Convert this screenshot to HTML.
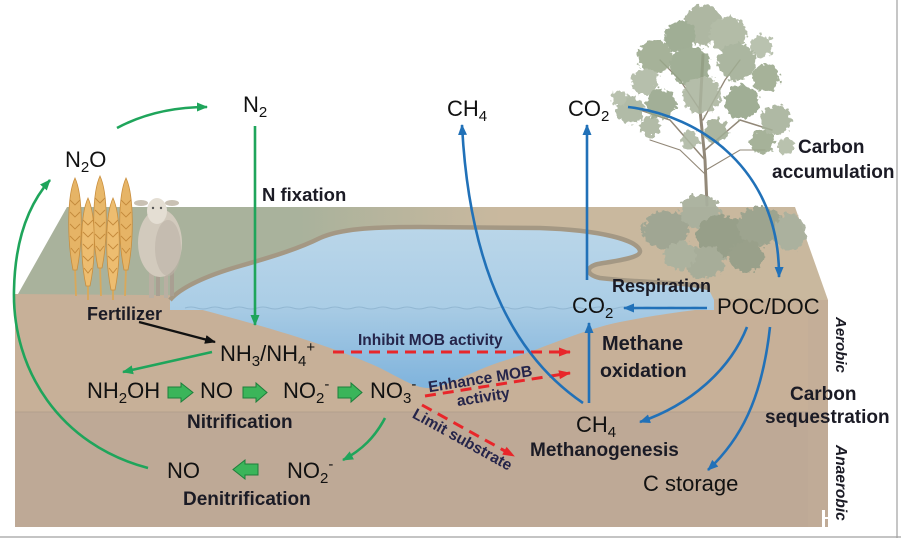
<!DOCTYPE html>
<html><head><meta charset="utf-8"><style>
html,body{margin:0;padding:0;background:#fff;}
svg{display:block;}
text{font-family:"Liberation Sans",sans-serif;}
.b{font-weight:bold;fill:#1b1b25;}
.r{fill:#111;}
.m{font-weight:bold;fill:#25254a;}
</style></head><body>
<svg width="901" height="538" viewBox="0 0 901 538" xmlns="http://www.w3.org/2000/svg">
<defs>
 <linearGradient id="topg" gradientUnits="userSpaceOnUse" x1="300" y1="0" x2="500" y2="0">
  <stop offset="0" stop-color="#a9b29c"/><stop offset="1" stop-color="#c9b89e"/>
 </linearGradient>
 <linearGradient id="pondg" x1="0" y1="0" x2="0" y2="1">
  <stop offset="0" stop-color="#bad6e9"/><stop offset="1" stop-color="#aacde6"/>
 </linearGradient>
 <linearGradient id="xsec" gradientUnits="userSpaceOnUse" x1="0" y1="308" x2="0" y2="392">
  <stop offset="0" stop-color="#a8cbe4"/><stop offset="1" stop-color="#7db2dc"/>
 </linearGradient>
 <filter id="feather" x="-20%" y="-20%" width="140%" height="140%">
  <feTurbulence type="fractalNoise" baseFrequency="0.2" numOctaves="2" seed="3" result="n"/>
  <feDisplacementMap in="SourceGraphic" in2="n" scale="10" xChannelSelector="R" yChannelSelector="G"/>
 </filter>
 <marker id="ag" markerWidth="12" markerHeight="10" refX="10" refY="5" orient="auto" markerUnits="userSpaceOnUse"><path d="M0,0.5 L11,5 L0,9.5 z" fill="#1fa55b"/></marker>
 <marker id="ab" markerWidth="12" markerHeight="10" refX="10" refY="5" orient="auto" markerUnits="userSpaceOnUse"><path d="M0,0.5 L11,5 L0,9.5 z" fill="#2171b8"/></marker>
 <marker id="ar" markerWidth="13" markerHeight="10" refX="11" refY="5" orient="auto" markerUnits="userSpaceOnUse"><path d="M0,0.5 L12,5 L0,9.5 z" fill="#e8262a"/></marker>
 <marker id="ak" markerWidth="12" markerHeight="10" refX="10" refY="5" orient="auto" markerUnits="userSpaceOnUse"><path d="M0,0.5 L11,5 L0,9.5 z" fill="#111"/></marker>
</defs>

<!-- frame lines -->
<line x1="897" y1="0" x2="897" y2="538" stroke="#a0a0a0" stroke-width="1.2"/>
<line x1="0" y1="537" x2="901" y2="537" stroke="#a0a0a0" stroke-width="1.2"/>

<!-- top surface -->
<polygon points="18,294 67,207 795,207 828,300 828,306 18,300" fill="url(#topg)"/>
<!-- front face -->
<polygon points="15,294 828,300 828,527 15,527" fill="#c7b098"/>
<rect x="15" y="412" width="813" height="115" fill="#bea996"/>
<line x1="15" y1="412" x2="828" y2="412" stroke="#b3a08d" stroke-width="1"/>
<rect x="808" y="300" width="20" height="227" fill="#c2ad98" opacity="0.6"/>

<!-- pond surface -->
<path d="M170,300 C180,288 205,276 240,266 C275,256 300,248 320,238 C340,229 370,227 420,227 L540,228 C600,230 638,240 640,251 C641,258 615,261 598,264 C585,267 586,275 600,278 C640,283 690,282 708,288 L714,300 L714,310 L170,310 Z" fill="url(#pondg)"/>
<path d="M170,300 C180,288 205,276 240,266 C275,256 300,248 320,238 C340,229 370,227 420,227 L540,228 C600,230 638,240 640,251 C641,258 615,261 598,264 C585,267 586,275 600,278 C640,283 690,282 708,288" fill="none" stroke="#a49884" stroke-width="4.5"/>
<!-- water cross-section -->
<path d="M195,308 C260,325 330,345 380,368 C400,378 415,388 428,388 C445,388 470,372 500,362 C540,350 580,330 620,322 C650,316 690,310 714,308 Z" fill="url(#xsec)"/>
<path d="M185,308 q6,-2 12,0 t12,0 t12,0 t12,0 t12,0 t12,0 t12,0 t12,0 t12,0 t12,0 t12,0 t12,0 t12,0 t12,0 t12,0 t12,0 t12,0 t12,0 t12,0 t12,0 t12,0 t12,0 t12,0 t12,0 t12,0 t12,0 t12,0 t12,0 t12,0 t12,0 t12,0 t12,0 t12,0 t12,0 t12,0 t12,0 t12,0 t12,0 t12,0 t12,0 t12,0 t12,0 t12,0" fill="none" stroke="#92b7d2" stroke-width="1"/>

<!-- wheat -->
<g stroke="#c98e3d" stroke-width="0.8">
 <line x1="75" y1="268" x2="76" y2="296" stroke="#d9a85a" stroke-width="1.8"/>
 <path d="M75,178 C83,195 83,240 77,270 L73,270 C67,240 67,195 75,178 Z" fill="#e6b466"/>
 <line x1="100" y1="266" x2="101" y2="296" stroke="#d9a85a" stroke-width="1.8"/>
 <path d="M100,176 C108,193 108,238 102,268 L98,268 C92,238 92,193 100,176 Z" fill="#e8b86a"/>
 <line x1="126" y1="268" x2="125" y2="296" stroke="#d9a85a" stroke-width="1.8"/>
 <path d="M126,178 C134,195 134,240 128,270 L124,270 C118,240 118,195 126,178 Z" fill="#e6b466"/>
 <line x1="88" y1="284" x2="88" y2="300" stroke="#d9a85a" stroke-width="1.8"/>
 <path d="M88,198 C96,215 96,258 90,286 L86,286 C80,258 80,215 88,198 Z" fill="#edbd70"/>
 <line x1="113" y1="288" x2="113" y2="300" stroke="#d9a85a" stroke-width="1.8"/>
 <path d="M113,198 C121,215 121,260 115,290 L111,290 C105,260 105,215 113,198 Z" fill="#edbd70"/>
</g>
<g stroke="#c48a3c" stroke-width="0.9" fill="none">
 <path d="M70,200 l5,5 l5,-5 M70,212 l5,5 l5,-5 M70,224 l5,5 l5,-5 M70,236 l5,5 l5,-5 M71,248 l4,5 l4,-5"/>
 <path d="M95,198 l5,5 l5,-5 M95,210 l5,5 l5,-5 M95,222 l5,5 l5,-5 M95,234 l5,5 l5,-5 M96,246 l4,5 l4,-5"/>
 <path d="M121,200 l5,5 l5,-5 M121,212 l5,5 l5,-5 M121,224 l5,5 l5,-5 M121,236 l5,5 l5,-5 M122,248 l4,5 l4,-5"/>
 <path d="M83,220 l5,5 l5,-5 M83,232 l5,5 l5,-5 M83,244 l5,5 l5,-5 M83,256 l5,5 l5,-5 M84,268 l4,5 l4,-5"/>
 <path d="M108,220 l5,5 l5,-5 M108,232 l5,5 l5,-5 M108,244 l5,5 l5,-5 M108,256 l5,5 l5,-5 M109,268 l4,5 l4,-5"/>
</g>

<!-- sheep -->
<g>
 <rect x="149" y="268" width="5" height="30" fill="#b9afa2"/>
 <rect x="156" y="268" width="4" height="28" fill="#a99f92"/>
 <rect x="164" y="268" width="4" height="30" fill="#b9afa2"/>
 <rect x="170" y="268" width="4" height="28" fill="#a99f92"/>
 <ellipse cx="160" cy="243" rx="22" ry="34" fill="#d2cabd"/>
 <ellipse cx="168" cy="248" rx="13" ry="28" fill="#bdb3a6" opacity="0.6"/>
 <ellipse cx="141" cy="203" rx="7" ry="3" fill="#c9c1b4"/>
 <ellipse cx="172" cy="203" rx="7" ry="3" fill="#c9c1b4"/>
 <ellipse cx="157" cy="211" rx="10" ry="13" fill="#e4ded3"/>
 <circle cx="153" cy="208" r="1.2" fill="#555"/>
 <circle cx="161" cy="208" r="1.2" fill="#555"/>
</g>

<!-- tree -->
<g stroke="#928878" fill="none" stroke-linecap="round">
 <path d="M707,205 L705,160 L700,110 L703,55" stroke-width="3"/>
 <path d="M705,160 L670,120 L640,110" stroke-width="1.5"/>
 <path d="M705,150 L740,120 L772,130" stroke-width="1.5"/>
 <path d="M703,120 L725,80 L740,60" stroke-width="1.3"/>
 <path d="M700,110 L680,80 L660,60" stroke-width="1.3"/>
 <path d="M706,175 L680,150 L650,140" stroke-width="1.1"/>
 <path d="M706,170 L740,150 L765,150" stroke-width="1.1"/>
</g>
<g filter="url(#feather)" opacity="0.88">
 <circle cx="703" cy="25" r="20" fill="#a3ae96"/>
 <circle cx="680" cy="37" r="16" fill="#94a387"/>
 <circle cx="728" cy="34" r="18" fill="#a9b39c"/>
 <circle cx="655" cy="57" r="17" fill="#9aa88c"/>
 <circle cx="645" cy="82" r="13" fill="#adb7a1"/>
 <circle cx="690" cy="66" r="20" fill="#95a488"/>
 <circle cx="737" cy="62" r="19" fill="#a0ad93"/>
 <circle cx="762" cy="46" r="11" fill="#b0baa4"/>
 <circle cx="766" cy="78" r="14" fill="#9aa88c"/>
 <circle cx="630" cy="110" r="14" fill="#a7b29b"/>
 <circle cx="661" cy="104" r="15" fill="#96a589"/>
 <circle cx="702" cy="95" r="19" fill="#aab49e"/>
 <circle cx="742" cy="102" r="17" fill="#94a387"/>
 <circle cx="776" cy="120" r="15" fill="#a5b098"/>
 <circle cx="762" cy="142" r="12" fill="#9aa88c"/>
 <circle cx="786" cy="146" r="8" fill="#b0baa3"/>
 <circle cx="716" cy="131" r="12" fill="#a1ad94"/>
 <circle cx="690" cy="140" r="9" fill="#adb7a1"/>
 <circle cx="619" cy="98" r="8" fill="#afb9a3"/>
 <circle cx="650" cy="126" r="10" fill="#a8b29b"/>
</g>
<g filter="url(#feather)" opacity="0.95">
 <ellipse cx="666" cy="230" rx="23" ry="19" fill="#9ea693"/>
 <ellipse cx="700" cy="212" rx="20" ry="17" fill="#a9b09d"/>
 <ellipse cx="722" cy="236" rx="26" ry="21" fill="#959e88"/>
 <ellipse cx="705" cy="262" rx="20" ry="16" fill="#a6ad99"/>
 <ellipse cx="760" cy="226" rx="23" ry="19" fill="#9ba38f"/>
 <ellipse cx="790" cy="232" rx="16" ry="19" fill="#aab19e"/>
 <ellipse cx="746" cy="256" rx="18" ry="15" fill="#979f89"/>
 <ellipse cx="680" cy="256" rx="16" ry="14" fill="#abb29f"/>
</g>

<!-- green connectors -->
<g fill="none" stroke="#1fa55b" stroke-width="2.6">
 <path d="M117,128 C145,113 175,107 207,107" marker-end="url(#ag)"/>
 <line x1="255" y1="126" x2="255" y2="325" marker-end="url(#ag)"/>
 <path d="M148,468 C60,445 12,370 14,290 C15,240 28,205 50,180" marker-end="url(#ag)"/>
 <line x1="212" y1="352" x2="123" y2="372" marker-end="url(#ag)"/>
 <path d="M385,418 C375,437 362,450 343,460" marker-end="url(#ag)"/>
</g>
<line x1="139" y1="322" x2="215" y2="342" stroke="#111" stroke-width="2.2" marker-end="url(#ak)"/>

<!-- block arrows -->
<g fill="#3bb55a" stroke="#1d7f3b" stroke-width="1">
 <path d="M168,387 L181,387 L181,383 L193,392.5 L181,402 L181,398 L168,398 Z"/>
 <path d="M243,387 L256,387 L256,383 L267,392.5 L256,402 L256,398 L243,398 Z"/>
 <path d="M338,387 L351,387 L351,383 L362,392.5 L351,402 L351,398 L338,398 Z"/>
 <path d="M258,464 L245,464 L245,460 L233,469.5 L245,479 L245,475 L258,475 Z"/>
</g>

<!-- red dashed -->
<g fill="none" stroke="#e8262a" stroke-width="3" stroke-dasharray="11 7">
 <line x1="333" y1="352" x2="570" y2="352" marker-end="url(#ar)"/>
 <line x1="425" y1="396" x2="570" y2="373" marker-end="url(#ar)"/>
 <line x1="422" y1="405" x2="514" y2="456" marker-end="url(#ar)"/>
</g>

<!-- blue connectors -->
<g fill="none" stroke="#2171b8" stroke-width="2.6">
 <path d="M583,403 C520,360 470,280 462,125" marker-end="url(#ab)"/>
 <line x1="587" y1="280" x2="587" y2="125" marker-end="url(#ab)"/>
 <line x1="589" y1="403" x2="589" y2="323" marker-end="url(#ab)"/>
 <line x1="707" y1="308" x2="624" y2="308" marker-end="url(#ab)"/>
 <path d="M628,107 C700,115 780,170 779,277" marker-end="url(#ab)"/>
 <path d="M747,327 C730,370 690,405 640,422" marker-end="url(#ab)"/>
 <path d="M770,327 C762,400 740,440 708,470" marker-end="url(#ab)"/>
</g>

<!-- regular labels -->
<g class="r" font-size="22">
 <text x="65" y="167">N<tspan font-size="15" dy="5">2</tspan><tspan dy="-5">O</tspan></text>
 <text x="243" y="112">N<tspan font-size="15" dy="5">2</tspan></text>
 <text x="220" y="361">NH<tspan font-size="15" dy="5">3</tspan><tspan dy="-5">/NH</tspan><tspan font-size="15" dy="5">4</tspan><tspan font-size="15" dy="-14">+</tspan></text>
 <text x="87" y="398">NH<tspan font-size="15" dy="5">2</tspan><tspan dy="-5">OH</tspan></text>
 <text x="200" y="398">NO</text>
 <text x="283" y="398">NO<tspan font-size="15" dy="5">2</tspan><tspan font-size="15" dy="-14">-</tspan></text>
 <text x="370" y="398">NO<tspan font-size="15" dy="5">3</tspan><tspan font-size="15" dy="-14">-</tspan></text>
 <text x="167" y="478">NO</text>
 <text x="287" y="478">NO<tspan font-size="15" dy="5">2</tspan><tspan font-size="15" dy="-14">-</tspan></text>
 <text x="447" y="116">CH<tspan font-size="15" dy="5">4</tspan></text>
 <text x="568" y="116">CO<tspan font-size="15" dy="5">2</tspan></text>
 <text x="572" y="313">CO<tspan font-size="15" dy="5">2</tspan></text>
 <text x="717" y="314">POC/DOC</text>
 <text x="576" y="432">CH<tspan font-size="15" dy="5">4</tspan></text>
 <text x="643" y="491">C storage</text>
</g>

<!-- bold labels -->
<text class="b" x="262" y="201" font-size="18.5">N fixation</text>
<text class="b" x="87" y="320" font-size="18">Fertilizer</text>
<text class="b" x="187" y="428" font-size="19">Nitrification</text>
<text class="b" x="183" y="505" font-size="19">Denitrification</text>
<text class="b" x="612" y="292" font-size="18">Respiration</text>
<text class="b" x="602" y="350" font-size="20">Methane</text>
<text class="b" x="600" y="377" font-size="19.5">oxidation</text>
<text class="b" x="530" y="456" font-size="19">Methanogenesis</text>
<text class="b" x="798" y="153" font-size="19">Carbon</text>
<text class="b" x="772" y="178" font-size="19">accumulation</text>
<text class="b" x="790" y="400" font-size="19">Carbon</text>
<text class="b" x="765" y="423" font-size="19">sequestration</text>
<text class="b" font-style="italic" font-size="15" transform="translate(836,317) rotate(90)">Aerobic</text>
<text class="b" font-style="italic" font-size="15.5" transform="translate(836,445) rotate(90)">Anaerobic</text>

<!-- MOB labels -->
<text class="m" x="358" y="345" font-size="15.5">Inhibit MOB activity</text>
<text class="m" font-size="15.5" text-anchor="middle" transform="translate(481,384) rotate(-9)">Enhance MOB</text>
<text class="m" font-size="15.5" text-anchor="middle" transform="translate(484,402) rotate(-9)">activity</text>
<text class="m" font-size="15.5" text-anchor="middle" transform="translate(460,444) rotate(29)">Limit substrate</text>

<!-- watermark marks -->
<rect x="822" y="510" width="3" height="17" fill="#fff"/>
<rect x="825" y="517" width="10" height="2" fill="#fff"/>
</svg>
</body></html>
